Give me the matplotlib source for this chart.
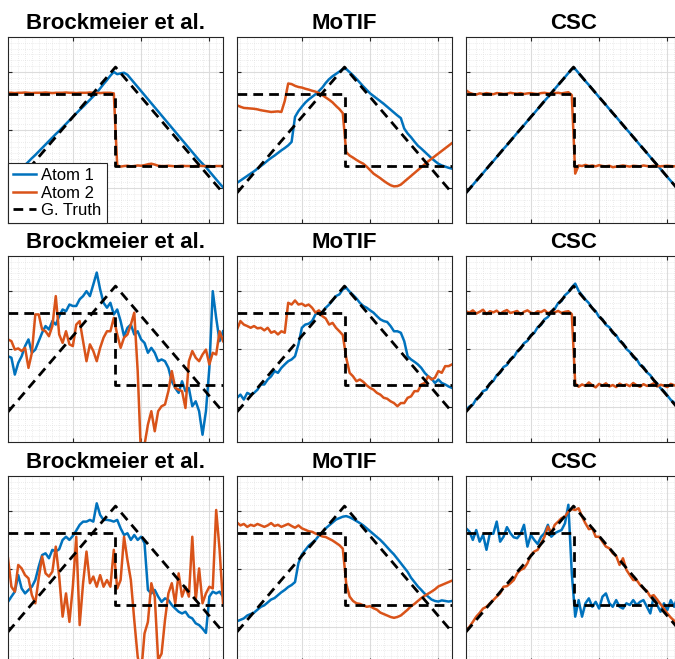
import matplotlib
matplotlib.use("Agg")
import matplotlib.pyplot as plt
import numpy as np
from matplotlib.ticker import MultipleLocator

plt.rcParams['font.family'] = ['Liberation Sans', 'DejaVu Sans']

BLUE = '#0072BD'
ORANGE = '#D95319'

titles = ["Brockmeier et al.", "MoTIF", "CSC"]
labels = ["Atom 1", "Atom 2", "G. Truth"]

x = np.arange(1, 65)

# ground truth atoms (triangle and step)
gt_tri_x = [1, 32.5, 64]
gt_tri_y = [-0.2165, 0.2165, -0.2165]
gt_step_x = [1, 32.5, 32.5, 64]
gt_step_y = [0.125, 0.125, -0.125, -0.125]

# row 1
r1_brock_a1 = [-0.180, -0.168, -0.156, -0.145, -0.133, -0.121, -0.109, -0.097, -0.086, -0.074,
               -0.062, -0.050, -0.038, -0.026, -0.014, -0.003, 0.009, 0.021, 0.033, 0.045,
               0.057, 0.069, 0.080, 0.092, 0.104, 0.116, 0.128, 0.143, 0.158, 0.172,
               0.187, 0.200, 0.192, 0.195, 0.197, 0.190, 0.176, 0.162, 0.148, 0.134,
               0.120, 0.106, 0.092, 0.078, 0.064, 0.050, 0.036, 0.022, 0.008, -0.006,
               -0.020, -0.034, -0.048, -0.062, -0.076, -0.090, -0.104, -0.116, -0.128, -0.142,
               -0.156, -0.170, -0.184, -0.197]
r1_brock_a2 = [0.128, 0.128, 0.127, 0.128, 0.128, 0.129, 0.128, 0.127, 0.128, 0.128,
               0.128, 0.129, 0.128, 0.127, 0.128, 0.128, 0.128, 0.129, 0.128, 0.128,
               0.127, 0.128, 0.128, 0.128, 0.129, 0.128, 0.128, 0.127, 0.128, 0.128,
               0.128, 0.126, -0.122, -0.126, -0.124, -0.123, -0.125, -0.124, -0.122, -0.123,
               -0.121, -0.118, -0.116, -0.119, -0.123, -0.124, -0.124, -0.123, -0.124, -0.125,
               -0.124, -0.123, -0.124, -0.124, -0.125, -0.124, -0.123, -0.124, -0.124, -0.124,
               -0.125, -0.124, -0.124, -0.124]
r1_motif_a1 = [-0.182, -0.174, -0.166, -0.158, -0.150, -0.142, -0.133, -0.124, -0.115, -0.105,
               -0.096, -0.088, -0.079, -0.070, -0.062, -0.053, -0.041, 0.045, 0.065, 0.080,
               0.094, 0.105, 0.114, 0.123, 0.134, 0.146, 0.162, 0.175, 0.185, 0.193,
               0.201, 0.210, 0.210, 0.199, 0.188, 0.176, 0.163, 0.150, 0.138, 0.126,
               0.117, 0.108, 0.099, 0.090, 0.080, 0.070, 0.060, 0.050, 0.041, 0.005,
               -0.012, -0.025, -0.040, -0.054, -0.064, -0.075, -0.086, -0.097, -0.107, -0.116,
               -0.122, -0.126, -0.130, -0.133]
r1_motif_a2 = [0.085, 0.080, 0.076, 0.075, 0.074, 0.073, 0.071, 0.068, 0.066, 0.064,
               0.062, 0.063, 0.064, 0.062, 0.100, 0.160, 0.158, 0.152, 0.148, 0.146,
               0.142, 0.139, 0.135, 0.132, 0.127, 0.120, 0.112, 0.104, 0.095, 0.083,
               0.072, 0.058, -0.076, -0.088, -0.095, -0.103, -0.110, -0.116, -0.126, -0.138,
               -0.150, -0.158, -0.166, -0.175, -0.183, -0.190, -0.194, -0.193, -0.188, -0.178,
               -0.168, -0.158, -0.148, -0.138, -0.128, -0.118, -0.108, -0.099, -0.090, -0.081,
               -0.072, -0.063, -0.054, -0.045]
r1_csc_a1 = [-0.216, -0.203, -0.189, -0.175, -0.162, -0.148, -0.134, -0.120, -0.107, -0.093,
             -0.079, -0.065, -0.052, -0.038, -0.024, -0.010, 0.003, 0.017, 0.031, 0.045,
             0.058, 0.072, 0.086, 0.100, 0.113, 0.127, 0.141, 0.155, 0.168, 0.182,
             0.196, 0.210, 0.210, 0.196, 0.182, 0.168, 0.155, 0.141, 0.127, 0.113,
             0.100, 0.086, 0.072, 0.058, 0.045, 0.031, 0.017, 0.003, -0.010, -0.024,
             -0.038, -0.052, -0.065, -0.079, -0.093, -0.107, -0.120, -0.134, -0.148, -0.162,
             -0.175, -0.189, -0.203, -0.216]
r1_csc_a2 = [0.137, 0.128, 0.124, 0.122, 0.126, 0.124, 0.127, 0.125, 0.123, 0.127,
             0.126, 0.124, 0.125, 0.128, 0.126, 0.125, 0.127, 0.124, 0.126, 0.127,
             0.125, 0.124, 0.127, 0.128, 0.126, 0.125, 0.127, 0.128, 0.126, 0.128,
             0.130, 0.120, -0.150, -0.122, -0.124, -0.120, -0.124, -0.122, -0.125, -0.121,
             -0.124, -0.125, -0.123, -0.128, -0.126, -0.124, -0.122, -0.124, -0.126, -0.123,
             -0.124, -0.125, -0.122, -0.124, -0.125, -0.123, -0.124, -0.125, -0.124, -0.123,
             -0.124, -0.125, -0.124, -0.124]

# row 2
r2_brock_a1 = [-0.025, -0.030, -0.088, -0.048, -0.025, 0.010, 0.033, -0.013, -0.002, 0.027,
               0.056, 0.079, 0.067, 0.096, 0.084, 0.113, 0.136, 0.130, 0.153, 0.148,
               0.148, 0.171, 0.182, 0.199, 0.182, 0.222, 0.263, 0.205, 0.159, 0.142,
               0.159, 0.119, 0.136, 0.096, 0.044, 0.073, 0.084, 0.050, 0.061, 0.033,
               0.021, -0.013, 0.004, -0.013, -0.042, -0.036, -0.042, -0.065, -0.111, -0.134,
               -0.151, -0.111, -0.145, -0.134, -0.197, -0.180, -0.214, -0.295, -0.214, -0.065,
               0.199, 0.107, 0.027, 0.061]
r2_brock_a2 = [0.033, 0.027, -0.002, 0.002, -0.007, 0.004, -0.065, -0.013, 0.119, 0.119,
               0.067, 0.061, 0.044, 0.079, 0.182, 0.050, 0.021, 0.061, 0.016, 0.010,
               0.084, 0.096, 0.027, -0.042, 0.016, -0.007, -0.042, 0.004, 0.039, 0.061,
               0.061, 0.107, 0.050, 0.004, 0.039, 0.050, 0.084, 0.125, -0.076, -0.376,
               -0.330, -0.260, -0.214, -0.283, -0.214, -0.197, -0.191, -0.145, -0.076, -0.134,
               -0.140, -0.145, -0.203, -0.042, -0.007, -0.030, -0.042, -0.019, -0.002, -0.053,
               -0.013, -0.019, 0.061, 0.027]
r2_motif_a1 = [-0.168, -0.157, -0.174, -0.151, -0.157, -0.151, -0.140, -0.122, -0.122, -0.105,
               -0.094, -0.076, -0.082, -0.065, -0.053, -0.042, -0.036, -0.025, 0.016, 0.073,
               0.084, 0.087, 0.096, 0.119, 0.130, 0.125, 0.142, 0.153, 0.167, 0.182,
               0.188, 0.205, 0.211, 0.197, 0.186, 0.174, 0.159, 0.148, 0.142, 0.133,
               0.125, 0.113, 0.102, 0.096, 0.093, 0.079, 0.061, 0.061, 0.056, 0.027,
               -0.025, -0.036, -0.044, -0.053, -0.065, -0.082, -0.094, -0.102, -0.117, -0.105,
               -0.117, -0.122, -0.129, -0.134]
r2_motif_a2 = [0.067, 0.096, 0.084, 0.079, 0.073, 0.079, 0.071, 0.073, 0.064, 0.073,
               0.056, 0.061, 0.050, 0.061, 0.056, 0.159, 0.153, 0.167, 0.153, 0.156,
               0.148, 0.153, 0.142, 0.125, 0.133, 0.113, 0.105, 0.084, 0.090, 0.073,
               0.061, 0.048, -0.030, -0.082, -0.094, -0.111, -0.105, -0.113, -0.125, -0.134,
               -0.140, -0.151, -0.157, -0.168, -0.171, -0.180, -0.186, -0.197, -0.186, -0.186,
               -0.168, -0.163, -0.145, -0.145, -0.122, -0.117, -0.094, -0.105, -0.099, -0.076,
               -0.082, -0.059, -0.059, -0.053]
r2_csc_a1 = [-0.210, -0.198, -0.192, -0.172, -0.165, -0.145, -0.140, -0.118, -0.110, -0.090,
             -0.082, -0.062, -0.055, -0.035, -0.028, -0.008, 0.000, 0.020, 0.028, 0.048,
             0.055, 0.075, 0.083, 0.102, 0.110, 0.130, 0.138, 0.158, 0.165, 0.185,
             0.195, 0.212, 0.225, 0.200, 0.185, 0.170, 0.158, 0.140, 0.130, 0.110,
             0.102, 0.083, 0.075, 0.055, 0.048, 0.028, 0.020, 0.000, -0.010, -0.028,
             -0.035, -0.055, -0.062, -0.080, -0.090, -0.108, -0.118, -0.135, -0.145, -0.160,
             -0.175, -0.185, -0.200, -0.212]
r2_csc_a2 = [0.130, 0.125, 0.133, 0.122, 0.128, 0.135, 0.120, 0.130, 0.126, 0.132,
             0.121, 0.129, 0.134, 0.124, 0.127, 0.131, 0.119, 0.128, 0.133, 0.125,
             0.122, 0.130, 0.127, 0.134, 0.123, 0.129, 0.126, 0.131, 0.124, 0.128,
             0.130, 0.120, -0.118, -0.130, -0.122, -0.127, -0.115, -0.125, -0.132, -0.120,
             -0.126, -0.118, -0.129, -0.124, -0.131, -0.119, -0.126, -0.122, -0.128, -0.117,
             -0.125, -0.130, -0.121, -0.127, -0.124, -0.118, -0.129, -0.123, -0.126, -0.131,
             -0.120, -0.125, -0.128, -0.122]

# row 3
r3_brock_a1 = [-0.113, -0.095, -0.078, -0.021, -0.067, -0.084, -0.072, -0.061, -0.038, 0.008,
               0.048, 0.054, 0.037, 0.066, 0.060, 0.068, 0.100, 0.111, 0.100, 0.114,
               0.132, 0.152, 0.163, 0.163, 0.169, 0.163, 0.226, 0.186, 0.169, 0.169,
               0.167, 0.163, 0.169, 0.140, 0.117, 0.123, 0.100, 0.117, 0.100, 0.111,
               0.089, -0.072, -0.084, -0.072, -0.095, -0.113, -0.101, -0.107, -0.124, -0.136,
               -0.147, -0.153, -0.147, -0.164, -0.170, -0.187, -0.193, -0.205, -0.220, -0.095,
               -0.078, -0.084, -0.078, -0.095]
r3_brock_a2 = [0.037, -0.061, -0.078, 0.014, 0.002, -0.021, -0.032, -0.090, -0.118, -0.032,
               0.043, -0.015, -0.026, -0.009, 0.077, -0.026, -0.164, -0.084, -0.182, -0.061,
               0.111, -0.193, -0.049, 0.060, -0.049, -0.026, -0.061, -0.021, -0.061, -0.038,
               -0.061, 0.066, -0.067, -0.038, 0.111, 0.031, -0.038, -0.176, -0.302, -0.360,
               -0.222, -0.182, -0.049, -0.095, -0.314, -0.291, -0.176, -0.084, -0.049, -0.118,
               -0.015, -0.095, -0.061, -0.095, 0.111, -0.107, 0.002, -0.118, -0.084, -0.061,
               -0.067, 0.203, 0.066, -0.118]
r3_motif_a1 = [-0.180, -0.175, -0.170, -0.160, -0.155, -0.150, -0.140, -0.130, -0.125, -0.115,
               -0.105, -0.100, -0.090, -0.080, -0.072, -0.062, -0.055, -0.045, 0.020, 0.050,
               0.065, 0.080, 0.090, 0.100, 0.115, 0.125, 0.140, 0.150, 0.160, 0.170,
               0.175, 0.180, 0.182, 0.178, 0.172, 0.165, 0.158, 0.150, 0.140, 0.130,
               0.120, 0.110, 0.100, 0.088, 0.075, 0.062, 0.050, 0.035, 0.020, 0.005,
               -0.010, -0.030, -0.045, -0.060, -0.072, -0.085, -0.095, -0.105, -0.110, -0.112,
               -0.108, -0.110, -0.112, -0.110]
r3_motif_a2 = [0.160, 0.150, 0.155, 0.145, 0.152, 0.148, 0.155, 0.150, 0.145, 0.150,
               0.158, 0.148, 0.152, 0.145, 0.150, 0.155, 0.148, 0.142, 0.150, 0.140,
               0.135, 0.130, 0.128, 0.122, 0.118, 0.112, 0.110, 0.104, 0.098, 0.090,
               0.082, 0.070, -0.050, -0.095, -0.110, -0.118, -0.120, -0.125, -0.130, -0.128,
               -0.135, -0.140, -0.150, -0.155, -0.160, -0.165, -0.168, -0.165, -0.160, -0.150,
               -0.140, -0.128, -0.120, -0.110, -0.100, -0.092, -0.085, -0.078, -0.070, -0.060,
               -0.055, -0.050, -0.045, -0.040]
r3_csc_a1 = [0.140, 0.129, 0.100, 0.134, 0.094, 0.117, 0.066, 0.123, 0.121, 0.163,
             0.094, 0.111, 0.144, 0.123, 0.109, 0.106, 0.121, 0.152, 0.077, 0.117,
             0.100, 0.086, 0.111, 0.123, 0.152, 0.111, 0.123, 0.129, 0.134, 0.157,
             0.221, -0.015, -0.164, -0.107, -0.164, -0.118, -0.101, -0.130, -0.113, -0.136,
             -0.095, -0.084, -0.118, -0.130, -0.107, -0.130, -0.136, -0.118, -0.124, -0.107,
             -0.124, -0.113, -0.107, -0.130, -0.153, -0.095, -0.124, -0.147, -0.118, -0.141,
             -0.107, -0.130, -0.095, -0.118]
r3_csc_a2 = [-0.216, -0.199, -0.182, -0.164, -0.151, -0.136, -0.130, -0.118, -0.107, -0.095,
             -0.084, -0.061, -0.059, -0.049, -0.038, -0.015, -0.003, 0.002, 0.020, 0.048,
             0.060, 0.066, 0.089, 0.111, 0.146, 0.123, 0.152, 0.163, 0.175, 0.180,
             0.198, 0.206, 0.203, 0.209, 0.180, 0.157, 0.137, 0.140, 0.111, 0.111,
             0.094, 0.077, 0.071, 0.054, 0.045, 0.014, 0.037, -0.003, -0.021, -0.038,
             -0.038, -0.055, -0.067, -0.075, -0.095, -0.090, -0.105, -0.121, -0.136, -0.153,
             -0.167, -0.178, -0.193, -0.205]

atoms = [
    [(r1_brock_a1, r1_brock_a2), (r1_motif_a1, r1_motif_a2), (r1_csc_a1, r1_csc_a2)],
    [(r2_brock_a1, r2_brock_a2), (r2_motif_a1, r2_motif_a2), (r2_csc_a1, r2_csc_a2)],
    [(r3_brock_a1, r3_brock_a2), (r3_motif_a1, r3_motif_a2), (r3_csc_a1, r3_csc_a2)],
]

W, H = 675, 659
fig = plt.figure(figsize=(W / 100, H / 100), dpi=100)

col_left = [8, 237, 466]
row_top = [37, 256, 476]
ax_w, ax_h = 215, 186

for r in range(3):
    for c in range(3):
        ax = fig.add_axes([col_left[c] / W, 1 - (row_top[r] + ax_h) / H, ax_w / W, ax_h / H])
        a1, a2 = atoms[r][c]
        l1, = ax.plot(x, a1, color=BLUE, lw=1.8)
        l2, = ax.plot(x, a2, color=ORANGE, lw=1.8)
        l3, = ax.plot(gt_tri_x, gt_tri_y, color='black', lw=2.0, dashes=(3.5, 2.2))
        ax.plot(gt_step_x, gt_step_y, color='black', lw=2.0, dashes=(3.5, 2.2))

        ax.set_xlim(1, 64)
        ax.set_ylim(-0.32, 0.32)
        ax.xaxis.set_major_locator(MultipleLocator(20))
        ax.xaxis.set_minor_locator(MultipleLocator(2))
        ax.yaxis.set_major_locator(MultipleLocator(0.2))
        ax.yaxis.set_minor_locator(MultipleLocator(0.02))
        ax.grid(which='major', color='#dcdcdc', lw=0.8)
        ax.grid(which='minor', color='#dadada', lw=0.5, ls=(0, (1, 2)))
        ax.set_axisbelow(True)
        ax.tick_params(which='major', direction='in', length=3, width=0.8,
                       top=True, right=True, labelbottom=False, labelleft=False,
                       color='#262626')
        ax.tick_params(which='minor', length=0)
        for s in ax.spines.values():
            s.set_color('#262626')
            s.set_linewidth(0.8)
        ax.set_title(titles[c], fontsize=16, fontweight='bold', pad=6)

        if r == 0 and c == 0:
            leg = ax.legend([l1, l2, l3], labels, loc='lower left',
                            bbox_to_anchor=(0, 0), borderaxespad=0, fontsize=12,
                            fancybox=False, framealpha=1, edgecolor='#262626',
                            handlelength=1.4, handletextpad=0.3, borderpad=0.3,
                            labelspacing=0.15)
            leg.get_frame().set_linewidth(0.8)

fig.savefig("out.png", dpi=100)
